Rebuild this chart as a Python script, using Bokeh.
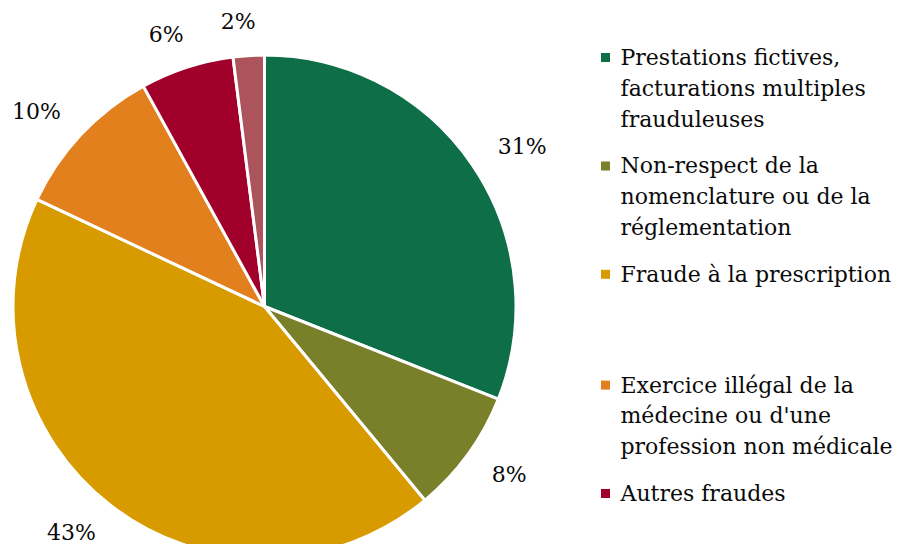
import math
from bokeh.plotting import figure
from bokeh.models import Range1d, ColumnDataSource
from bokeh.core.properties import value
from bokeh.embed import file_html
from bokeh.resources import INLINE

# ---- data ----
categories = [
    "Prestations fictives,\nfacturations multiples\nfrauduleuses",
    "Non-respect de la\nnomenclature ou de la\nréglementation",
    "Fraude à la prescription",
    "Exercice illégal de la\nmédecine ou d'une\nprofession non médicale",
    "Autres fraudes",
    "",
]
shares = [31, 8, 43, 10, 6, 2]
pct_labels = ["31%", "8%", "43%", "10%", "6%", "2%"]
colors = ["#0D6E47", "#7A7F2A", "#D79B00", "#E2801D", "#A1002B", "#AD535C"]

# ---- layout (pixel-like data space; y = 552 - picture_y) ----
W, H = 892, 544
FONT = "DejaVu Serif"
FS = "22px"
TXT = "#0a0a0a"

p = figure(width=W, height=H, output_backend="svg", toolbar_location=None,
           x_range=Range1d(0, W), y_range=Range1d(552 - H, 552),
           x_axis_type=None, y_axis_type=None, min_border=0,
           outline_line_color=None, background_fill_color="white",
           border_fill_color="white")
p.grid.visible = False

cx, cy, R = 264, 552 - 306, 251.5
total = sum(shares)
starts, ends, mids = [], [], []
acc = 0
for s in shares:
    a0 = acc / total
    acc += s
    a1 = acc / total
    starts.append(math.pi / 2 - a0 * 2 * math.pi)
    ends.append(math.pi / 2 - a1 * 2 * math.pi)
    mids.append((a0 + a1) / 2 * 2 * math.pi)  # clockwise from top

src = ColumnDataSource(dict(x=[cx] * len(shares), y=[cy] * len(shares),
                            start=starts, end=ends, color=colors))
p.wedge(x="x", y="y", radius=R, start_angle="start", end_angle="end",
        direction="clock", fill_color="color", line_color="white",
        line_width=3, source=src)

# percentage labels outside the pie
g = 22
lx, ly = [], []
for lab, th in zip(pct_labels, mids):
    a = len(lab) * 9.5
    b = 12
    s, c = math.sin(th), math.cos(th)
    lx.append(cx + (R + g) * s + a * s + 8 * (1 if s >= 0 else -1))
    ly.append(cy + (R + g) * c + b * c)
p.text(x=lx, y=ly, text=pct_labels, text_font=value(FONT), text_font_size=FS,
       text_align="center", text_baseline="middle", text_color=TXT)

# legend (manual)
line_h = 30.8
entry_gap = 16
extra_before = {3: 64}
base = 552 - 57   # centre of first legend line
sq_x, sq_y, sq_c = [], [], []
tx, ty, tt = [], [], []
y = base
for i, (cat, col) in enumerate(zip(categories, colors)):
    if not cat:
        continue
    y -= extra_before.get(i, 0)
    lines = cat.split("\n")
    sq_x.append(605)
    sq_y.append(y)
    sq_c.append(col)
    for ln in lines:
        tx.append(620)
        ty.append(y)
        tt.append(ln)
        y -= line_h
    y -= entry_gap
p.scatter(x=sq_x, y=sq_y, marker="square", size=9, fill_color=sq_c,
          line_color=None)
p.text(x=tx, y=ty, text=tt, text_font=value(FONT), text_font_size=FS,
       text_align="left", text_baseline="middle", text_color=TXT)

open("out.html", "w").write(file_html(p, INLINE))
